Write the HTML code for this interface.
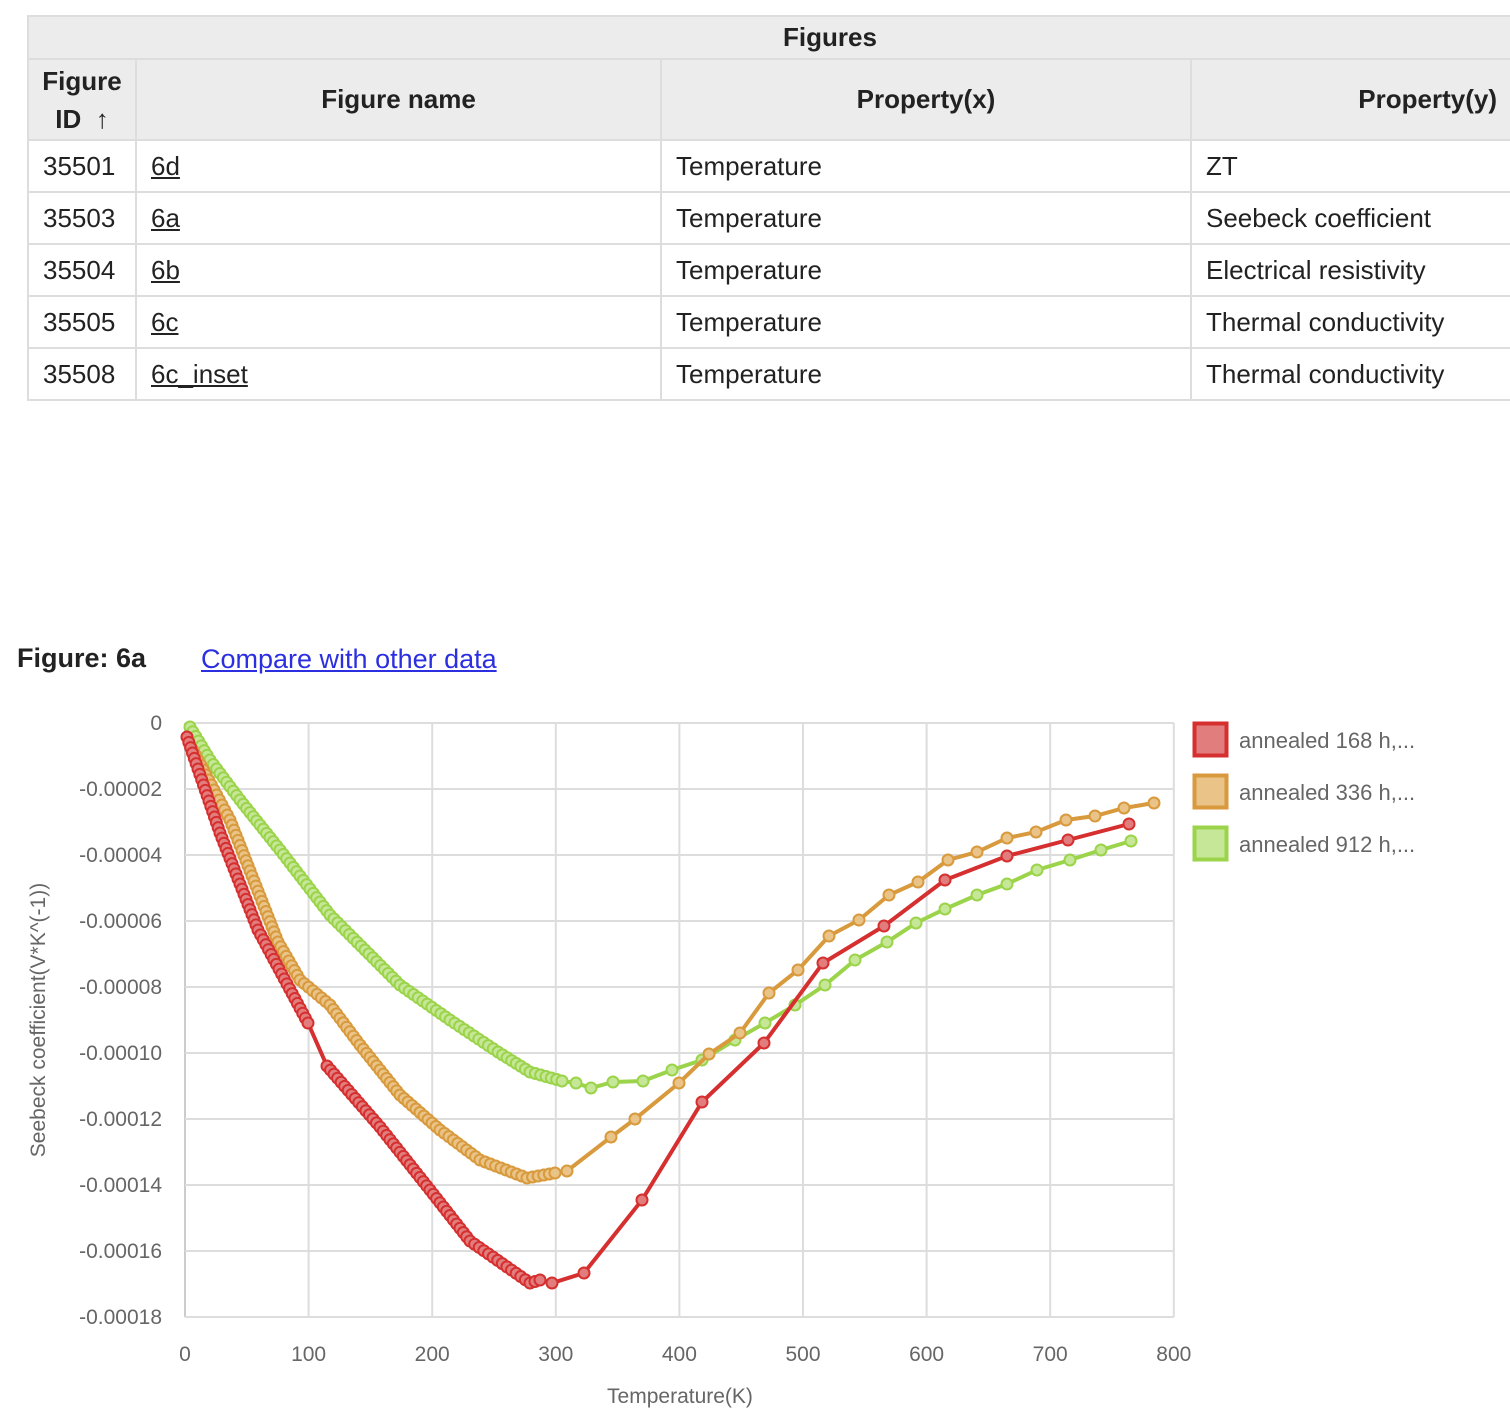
<!DOCTYPE html>
<html><head><meta charset="utf-8"><style>
body{margin:0;width:1510px;height:1418px;background:#fff;font-family:"Liberation Sans",sans-serif;position:relative;overflow:hidden;color:#222}
table{position:absolute;left:27px;top:15px;border-collapse:collapse;width:1490px;font-size:26px;table-layout:fixed}
td,th{border:2px solid #ddd;padding:0 14px;overflow:hidden;white-space:nowrap}
th{background:#ececec;font-weight:bold;color:#222}
td{height:50px}
u{text-decoration:underline}
</style></head><body>
<table>
<colgroup><col style="width:108px"><col style="width:525px"><col style="width:530px"><col></colgroup>
<tr><th colspan="4" style="height:41px;text-align:center;padding-left:130px">Figures</th></tr>
<tr style="height:81px"><th style="text-align:center;line-height:38px;padding:0 4px">Figure<br>ID &nbsp;<span style="font-weight:normal">↑</span></th><th>Figure name</th><th>Property(x)</th><th style="text-align:right;padding-right:18px">Property(y)</th></tr>
<tr><td>35501</td><td><u>6d</u></td><td>Temperature</td><td>ZT</td></tr>
<tr><td>35503</td><td><u>6a</u></td><td>Temperature</td><td>Seebeck coefficient</td></tr>
<tr><td>35504</td><td><u>6b</u></td><td>Temperature</td><td>Electrical resistivity</td></tr>
<tr><td>35505</td><td><u>6c</u></td><td>Temperature</td><td>Thermal conductivity</td></tr>
<tr><td>35508</td><td><u>6c_inset</u></td><td>Temperature</td><td>Thermal conductivity</td></tr>
</table>
<div style="position:absolute;left:17px;top:643px;font-size:27px;font-weight:bold">Figure: 6a</div>
<div style="position:absolute;left:201px;top:644px;font-size:27px;color:#2b2fe0;text-decoration:underline">Compare with other data</div>
<svg id="s" width="1510" height="1418" style="position:absolute;left:0;top:0" font-family="Liberation Sans, sans-serif"></svg>
<script>
const s=document.getElementById('s');let h='';
for(let i=0;i<=8;i++){const x=185+i*123.6;h+=`<line x1="${x}" y1="723" x2="${x}" y2="1317" stroke="${i==0?'#ccc':'#ddd'}" stroke-width="2"/>`;
h+=`<text x="${x}" y="1361" font-size="21" fill="#666" text-anchor="middle">${i*100}</text>`;}
const yl=['0','-0.00002','-0.00004','-0.00006','-0.00008','-0.00010','-0.00012','-0.00014','-0.00016','-0.00018'];
for(let i=0;i<=9;i++){const y=723+i*66;h+=`<line x1="185" y1="${y}" x2="1174" y2="${y}" stroke="#ddd" stroke-width="2"/>`;
h+=`<text x="162" y="${y+7}" font-size="21" fill="#666" text-anchor="end">${yl[i]}</text>`;}
h+=`<text x="680" y="1403" font-size="21" fill="#666" text-anchor="middle">Temperature(K)</text>`;
h+=`<text transform="translate(45,1020) rotate(-90)" font-size="21" fill="#666" text-anchor="middle">Seebeck coefficient(V*K^(-1))</text>`;
function dense(pts,step){let o=[];for(let i=0;i<pts.length-1;i++){const[a,b]=[pts[i],pts[i+1]];const d=Math.hypot(b[0]-a[0],b[1]-a[1]);const n=Math.max(1,Math.round(d/step));for(let k=0;k<n;k++)o.push([a[0]+(b[0]-a[0])*k/n,a[1]+(b[1]-a[1])*k/n]);}o.push(pts[pts.length-1]);return o;}
const series=[
{c:'#9bd44a',f:'#c6e797',d:[[190,727],[210,760],[240,800],[280,850],[330,915],[400,985],[450,1020],[498,1052],[530,1072],[562,1081]],r:[[576,1083],[591,1088],[613,1082],[643,1081],[672,1070],[702,1060],[735,1040],[765,1023],[795,1005],[825,985],[855,960],[887,942],[916,923],[945,909],[977,895],[1007,884],[1037,870],[1070,860],[1101,850],[1131,841]]},
{c:'#d89a3c',f:'#e9c387',d:[[190,745],[230,820],[278,942],[300,980],[330,1005],[360,1045],[400,1095],[440,1130],[480,1160],[527,1178],[555,1173]],r:[[567,1171],[611,1137],[635,1119],[679,1083],[709,1054],[740,1033],[769,993],[798,970],[829,936],[859,920],[889,895],[918,882],[948,860],[977,852],[1007,838],[1036,832],[1066,820],[1095,816],[1124,808],[1154,803]]},
{c:'#d62f2f',f:'#e27d7d',d:[[187,737],[220,833],[258,930],[308,1023]],d2:[[327,1066],[380,1127],[430,1190],[470,1241],[530,1283],[540,1280]],r:[[552,1283],[584,1273],[642,1200],[702,1102],[764,1043],[823,963],[884,926],[945,880],[1007,856],[1068,840],[1129,824]]}];
for(const se of series){let pts=dense(se.d,5.5);if(se.d2)pts=pts.concat(dense(se.d2,5.5));pts=pts.concat(se.r);
h+=`<polyline points="${pts.map(p=>p.join(',')).join(' ')}" fill="none" stroke="${se.c}" stroke-width="4"/>`;
for(const p of pts)h+=`<circle cx="${p[0]}" cy="${p[1]}" r="5.5" fill="${se.f}" stroke="${se.c}" stroke-width="2"/>`;}
const lg=[['#d62f2f','#e27d7d','annealed 168 h,...'],['#d89a3c','#e9c387','annealed 336 h,...'],['#9bd44a','#c6e797','annealed 912 h,...']];
lg.forEach((l,i)=>{const y=722+i*52;h+=`<rect x="1194.5" y="${y+1.5}" width="32" height="32" fill="${l[1]}" stroke="${l[0]}" stroke-width="4"/>`;
h+=`<text x="1239" y="${y+26}" font-size="22" fill="#666">${l[2]}</text>`;});
s.innerHTML=h;
</script>
</body></html>
